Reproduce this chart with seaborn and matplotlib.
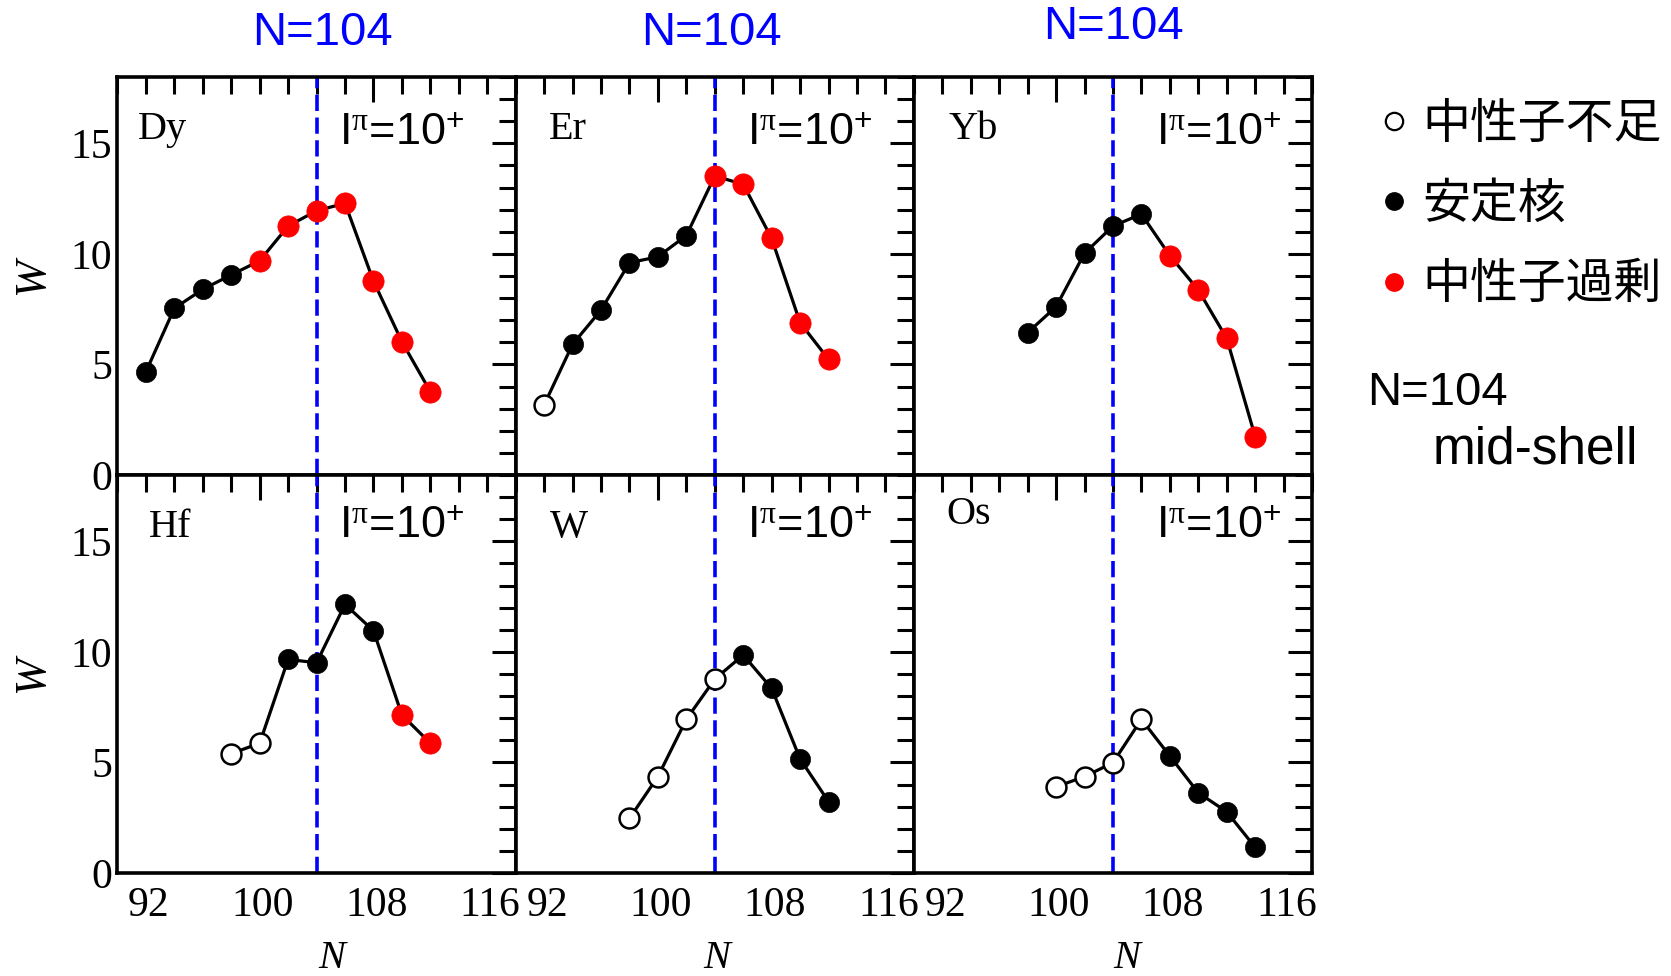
import matplotlib
matplotlib.use("Agg")
import matplotlib.pyplot as plt
from matplotlib.lines import Line2D
from matplotlib.ticker import FixedLocator, MultipleLocator
from matplotlib.transforms import ScaledTranslation
import numpy as np
import pandas as pd
import seaborn as sns

# ---- data: W versus neutron number N for the 10+ state ----
elements = ["Dy", "Er", "Yb", "Hf", "W", "Os"]

dy_n = [92, 94, 96, 98, 100, 102, 104, 106, 108, 110, 112]
dy_w = [4.67, 7.54, 8.40, 9.05, 9.69, 11.26, 11.95, 12.29, 8.77, 6.03, 3.77]
dy_kind = ["s", "s", "s", "s", "r", "r", "r", "r", "r", "r", "r"]

er_n = [92, 94, 96, 98, 100, 102, 104, 106, 108, 110, 112]
er_w = [3.17, 5.91, 7.46, 9.60, 9.87, 10.83, 13.52, 13.15, 10.70, 6.89, 5.23]
er_kind = ["d", "s", "s", "s", "s", "s", "r", "r", "r", "r", "r"]

yb_n = [98, 100, 102, 104, 106, 108, 110, 112, 114]
yb_w = [6.44, 7.61, 10.03, 11.26, 11.80, 9.92, 8.37, 6.18, 1.73]
yb_kind = ["s", "s", "s", "s", "s", "r", "r", "r", "r"]

hf_n = [98, 100, 102, 104, 106, 108, 110, 112]
hf_w = [5.40, 5.87, 9.66, 9.51, 12.15, 10.96, 7.15, 5.87]
hf_kind = ["d", "d", "s", "s", "s", "s", "r", "r"]

w_n = [98, 100, 102, 104, 106, 108, 110, 112]
w_w = [2.47, 4.36, 6.95, 8.77, 9.86, 8.35, 5.16, 3.23]
w_kind = ["d", "d", "d", "d", "s", "s", "s", "s"]

os_n = [100, 102, 104, 106, 108, 110, 112, 114]
os_w = [3.90, 4.36, 4.99, 6.95, 5.29, 3.63, 2.77, 1.16]
os_kind = ["d", "d", "d", "d", "s", "s", "s", "s"]

kind_labels = {"d": "中性子不足", "s": "安定核", "r": "中性子過剰"}
mid_shell = 104
x_ticks = [92, 100, 108, 116]

series = {
    "Dy": (dy_n, dy_w, dy_kind),
    "Er": (er_n, er_w, er_kind),
    "Yb": (yb_n, yb_w, yb_kind),
    "Hf": (hf_n, hf_w, hf_kind),
    "W": (w_n, w_w, w_kind),
    "Os": (os_n, os_w, os_kind),
}
frames = []
for el, (n, w, k) in series.items():
    frames.append(pd.DataFrame({"element": el, "N": n, "W": w, "kind": k}))
df = pd.concat(frames, ignore_index=True)

# ---- styling ----
sns.set_theme(style="white")
plt.rcParams["font.family"] = ["Liberation Serif", "DejaVu Sans"]
plt.rcParams["mathtext.fontset"] = "custom"
plt.rcParams["mathtext.rm"] = "Liberation Serif"
plt.rcParams["mathtext.sf"] = "Liberation Sans"
plt.rcParams["mathtext.it"] = "Liberation Serif:italic"
for key in ["text.color", "axes.labelcolor", "xtick.color", "ytick.color",
            "axes.edgecolor"]:
    plt.rcParams[key] = "black"

marker_style = {
    "d": dict(color="white", edgecolor="black", linewidth=1.8, s=205),
    "s": dict(color="black", edgecolor="black", linewidth=0.5, s=210),
    "r": dict(color="#ff0000", edgecolor="#ff0000", linewidth=0.5, s=235),
}

fig = plt.figure(figsize=(16.71, 9.76), dpi=100)
gs = fig.add_gridspec(2, 3, left=0.0703, right=0.7852, top=0.9211,
                      bottom=0.1055, wspace=0, hspace=0)
axes = gs.subplots(sharex=True, sharey=True)

label_pos = {
    "Dy": (91.4, 15.2), "Er": (92.3, 15.2), "Yb": (92.4, 15.2),
    "Hf": (92.2, 15.2), "W": (92.4, 15.2), "Os": (92.3, 15.8),
}
spin_x = [105.6, 106.3, 107.05]
xlabel_x = [0.539, 0.506, 0.535]
top_label_x = [104.43, 103.8, 104.0]
top_label_y = [1.11, 1.11, 1.125]
label_shift = ScaledTranslation(3 / 100, 0, fig.dpi_scale_trans)

for idx, el in enumerate(elements):
    r, c = divmod(idx, 3)
    ax = axes[r, c]
    sub = df[df["element"] == el]

    ax.axvline(mid_shell, color="#0000ff", lw=2.6, ls=(0, (4.5, 1.8)), zorder=1)
    sns.lineplot(data=sub, x="N", y="W", color="black", lw=2.3, ax=ax,
                 sort=True, zorder=2, legend=False)
    for k in ["d", "s", "r"]:
        part = sub[sub["kind"] == k]
        if len(part):
            sns.scatterplot(data=part, x="N", y="W", ax=ax, zorder=3,
                            legend=False, **marker_style[k])

    ax.set_xlim(90, 118)
    ax.set_ylim(0, 18)
    ax.xaxis.set_major_locator(FixedLocator(x_ticks))
    ax.xaxis.set_minor_locator(MultipleLocator(2))
    ax.yaxis.set_major_locator(MultipleLocator(5))
    ax.yaxis.set_minor_locator(MultipleLocator(1))
    ax.tick_params(which="both", direction="in", top=True, right=True,
                   width=2.2, color="black", labelsize=30, labelcolor="black")
    ax.tick_params(axis="y", which="major", length=17, pad=4)
    ax.tick_params(axis="y", which="minor", length=12)
    ax.tick_params(axis="x", which="major", length=12, pad=10)
    ax.tick_params(axis="x", which="minor", length=12)
    for tk in ax.xaxis.get_major_ticks():
        if tk.get_loc() == 100:
            tk.tick1line.set_markersize(18)
            tk.tick2line.set_markersize(18)
    for lab in ax.get_xticklabels():
        lab.set_transform(lab.get_transform() + label_shift)
    for sp in ax.spines.values():
        sp.set_linewidth(2.6)
        sp.set_color("black")

    lx, ly = label_pos[el]
    ax.text(lx, ly, el, fontsize=29, family="Liberation Serif", va="baseline")
    ax.text(spin_x[c], 14.93 if r == 0 else 15.15,
            r"I$^{\mathrm{\pi}}$=10$^{\mathsf{+}}$",
            fontsize=32.5, family="Liberation Sans", va="baseline")

    if c == 0:
        ax.set_ylabel("W", fontsize=32, fontstyle="italic")
        ax.yaxis.set_label_coords(-0.165, 0.5)
    else:
        ax.set_ylabel("")
    if r == 1:
        ax.set_xlabel("N", fontsize=29, fontstyle="italic")
        ax.xaxis.set_label_coords(xlabel_x[c], -0.168)
    else:
        ax.set_xlabel("")
        ax.text(top_label_x[c], top_label_y[c], f"N={mid_shell}",
                color="#0000ff", fontsize=34, family="Liberation Sans",
                ha="center", va="center", transform=ax.get_xaxis_transform())

# ---- legend for the three nucleus groups ----
handles = [
    Line2D([], [], ls="none", marker="o", markersize=12.5, mfc="white",
           mec="black", mew=1.6),
    Line2D([], [], ls="none", marker="o", markersize=12.5, mfc="black",
           mec="black"),
    Line2D([], [], ls="none", marker="o", markersize=12.5, mfc="#ff0000",
           mec="#ff0000"),
]
fig.legend(handles, [kind_labels[k] for k in ["d", "s", "r"]],
           loc="upper left", bbox_to_anchor=(0.8255, 0.898), frameon=False,
           prop={"family": ["Noto Sans CJK JP", "DejaVu Sans"], "size": 34.5},
           handlelength=0.6, handletextpad=0.3, labelspacing=0.64,
           borderaxespad=0, borderpad=0, labelcolor="black")

fig.text(0.818, 0.597, f"N={mid_shell}", fontsize=34, family="Liberation Sans",
         va="center", ha="left")
fig.text(0.8576, 0.539, "mid-shell", fontsize=37, family="Liberation Sans",
         va="center", ha="left")

fig.savefig("out.png", dpi=100, facecolor="white")
